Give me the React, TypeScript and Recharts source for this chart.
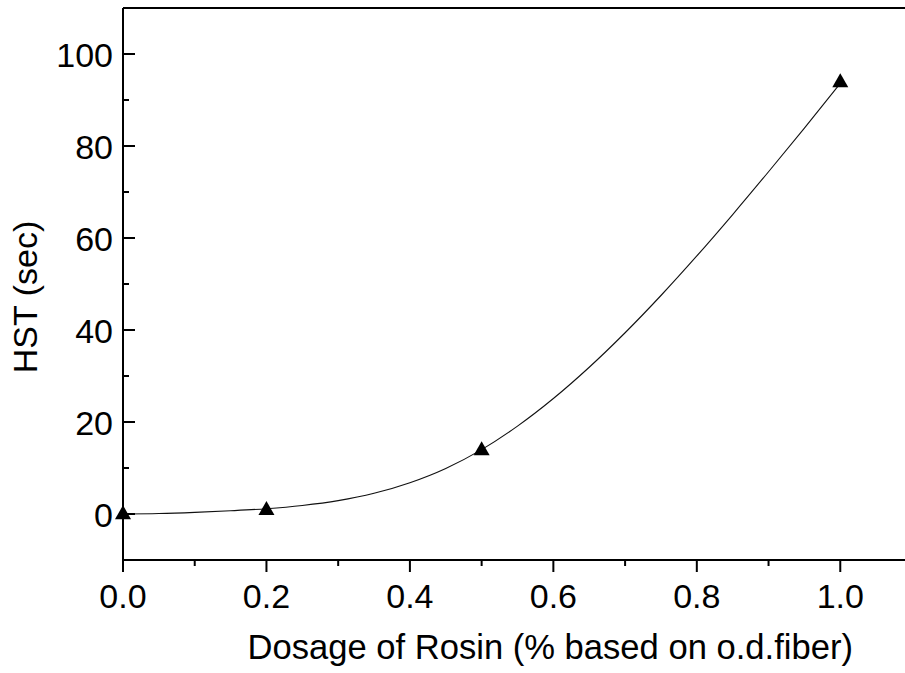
import React from 'react';
import { ComposedChart, Line, Scatter, XAxis, YAxis, ReferenceLine } from 'recharts';

// measured data points (Dosage %, HST sec)
const dosage = [0, 0.2, 0.5, 1.0];
const hst = [0.4, 1.3, 14.3, 94.3];

// fitted curve
const curveX = [0, 0.05, 0.1, 0.15, 0.2, 0.25, 0.3, 0.35, 0.4, 0.45, 0.5, 0.55, 0.6, 0.65, 0.7, 0.75, 0.8, 0.85, 0.9, 0.95, 1.0];
const curveY = [0, 0.1, 0.35, 0.7, 1.15, 1.85, 2.9, 4.5, 6.8, 9.9, 14.0, 19.1, 25.1, 31.9, 39.4, 47.5, 56.1, 65.1, 74.4, 83.9, 93.6];

const xTicks = [0, 0.1, 0.2, 0.3, 0.4, 0.5, 0.6, 0.7, 0.8, 0.9, 1.0, 1.1];
const xMajor = [0, 0.2, 0.4, 0.6, 0.8, 1.0];
const yTicks = [-10, 0, 10, 20, 30, 40, 50, 60, 70, 80, 90, 100, 110];
const yMajor = [0, 20, 40, 60, 80, 100];

const points = dosage.map((d, i) => ({ x: d, y: hst[i] }));
const curve = curveX.map((d, i) => ({ x: d, y: curveY[i] }));

const FONT = 'Arial, "Liberation Sans", Helvetica, sans-serif';

const isMajor = (arr: number[], v: number) => arr.some((m) => Math.abs(m - v) < 1e-6);

const XTick = (props: any) => {
  const { x, y, payload } = props;
  const v = payload.value;
  const major = isMajor(xMajor, v);
  return (
    <g>
      <line x1={x} x2={x} y1={y} y2={y + (major ? 12 : 6)} stroke="#000" strokeWidth={2} />
      {major && (
        <text x={x} y={y + 48} textAnchor="middle" fontSize={34} fontFamily={FONT} fill="#000">
          {v.toFixed(1)}
        </text>
      )}
    </g>
  );
};

const YTick = (props: any) => {
  const { x, y, payload } = props;
  const v = payload.value;
  const major = isMajor(yMajor, v);
  return (
    <g>
      <line x1={x} x2={x + (major ? 12 : 6)} y1={y} y2={y} stroke="#000" strokeWidth={2} />
      {major && (
        <text x={x - 10} y={y + 13} textAnchor="end" fontSize={34} fontFamily={FONT} fill="#000">
          {String(v)}
        </text>
      )}
    </g>
  );
};

const Triangle = (props: any) => {
  const { cx, cy } = props;
  if (cx == null || cy == null) return null;
  const w = 16;
  const h = 14;
  return (
    <polygon
      points={`${cx - w / 2},${cy + h / 2} ${cx + w / 2},${cy + h / 2} ${cx},${cy - h / 2}`}
      fill="#000"
    />
  );
};

export default function App() {
  return (
    <div style={{ position: 'absolute', left: 0, top: 0, width: 905, height: 673, overflow: 'hidden', background: '#fff' }}>
      <ComposedChart width={925} height={673} margin={{ top: 8, right: 13, left: 0, bottom: 0 }}>
        <XAxis
          type="number"
          dataKey="x"
          domain={[0, 1.1]}
          ticks={xTicks}
          interval={0}
          height={113}
          tickSize={0}
          tickMargin={0}
          tickLine={false}
          axisLine={{ stroke: '#000', strokeWidth: 2 }}
          tick={<XTick />}
        />
        <YAxis
          type="number"
          dataKey="y"
          domain={[-10, 110]}
          ticks={yTicks}
          interval={0}
          width={123}
          tickSize={0}
          tickMargin={0}
          tickLine={false}
          axisLine={{ stroke: '#000', strokeWidth: 2 }}
          tick={<YTick />}
        />
        <ReferenceLine y={110} stroke="#000" strokeWidth={2} />
        <Line
          data={curve}
          dataKey="y"
          type="monotone"
          stroke="#111"
          strokeWidth={1.1}
          dot={false}
          activeDot={false}
          isAnimationActive={false}
        />
        <Scatter data={points} dataKey="y" shape={<Triangle />} isAnimationActive={false} />
        <text x={37} y={297} transform="rotate(-90, 37, 297)" textAnchor="middle" fontSize={34} fontFamily={FONT} fill="#000">
          HST (sec)
        </text>
        <text x={247.5} y={659} textAnchor="start" fontSize={34.6} fontFamily={FONT} fill="#000">
          Dosage of Rosin (% based on o.d.fiber)
        </text>
      </ComposedChart>
    </div>
  );
}
